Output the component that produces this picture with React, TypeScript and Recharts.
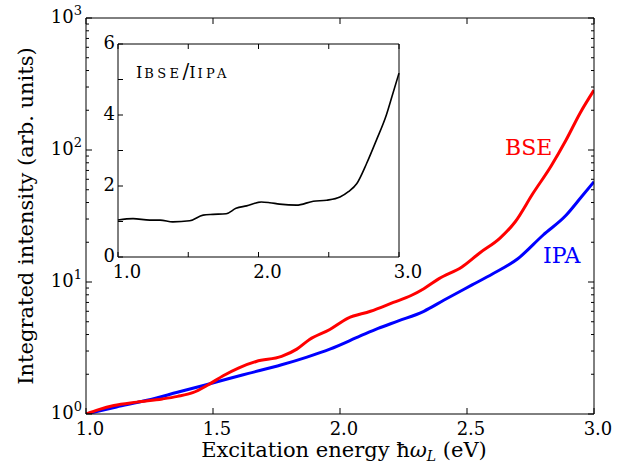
import { LineChart, Line, XAxis, YAxis } from 'recharts';

// BSE intensity (main panel, log scale)
const bseEnergy = [1.0, 1.05, 1.11, 1.2, 1.3, 1.36, 1.42, 1.48, 1.54, 1.6, 1.67, 1.77, 1.83, 1.88, 1.96, 2.03, 2.12, 2.21, 2.28, 2.33, 2.39, 2.48, 2.55, 2.63, 2.69, 2.76, 2.83, 2.89, 2.945, 3.0];
const bseValues = [1.0, 1.08, 1.16, 1.23, 1.3, 1.36, 1.45, 1.66, 1.95, 2.23, 2.5, 2.73, 3.1, 3.67, 4.37, 5.3, 6.0, 7.0, 7.9, 8.9, 10.6, 13.0, 16.6, 21.5, 28.6, 47, 75, 119, 190, 284];

// IPA intensity
const ipaEnergy = [1.0, 1.12, 1.24, 1.36, 1.47, 1.56, 1.64, 1.77, 1.87, 1.96, 2.08, 2.15, 2.23, 2.33, 2.41, 2.52, 2.6, 2.7, 2.8, 2.89, 2.95, 3.0];
const ipaValues = [1.0, 1.13, 1.27, 1.46, 1.66, 1.85, 2.03, 2.36, 2.7, 3.1, 3.9, 4.45, 5.07, 6.0, 7.3, 9.5, 11.5, 15, 22.7, 32, 44, 57.5];

// ratio shown in the inset
const ratioEnergy = [1.0, 1.107, 1.226, 1.3, 1.39, 1.51, 1.606, 1.677, 1.77, 1.84, 1.915, 2.02, 2.08, 2.15, 2.27, 2.39, 2.485, 2.58, 2.64, 2.7, 2.77, 2.84, 2.91, 2.95, 3.0];
const ratioValues = [1.04, 1.08, 1.04, 1.04, 0.99, 1.02, 1.18, 1.2, 1.22, 1.37, 1.44, 1.55, 1.53, 1.49, 1.46, 1.57, 1.6, 1.69, 1.84, 2.07, 2.64, 3.3, 4.0, 4.52, 5.18];

const xTicks = [1.0, 1.5, 2.0, 2.5, 3.0];
const yMajor = [1, 10, 100, 1000];
const yTicks = [1, 2, 3, 4, 5, 6, 7, 8, 9, 10, 20, 30, 40, 50, 60, 70, 80, 90, 100, 200, 300, 400, 500, 600, 700, 800, 900, 1000];
const insetXTicks = [1.0, 1.5, 2.0, 2.5, 3.0];
const insetXLabels = [1.0, 2.0, 3.0];
const insetYTicks = [0, 1, 2, 3, 4, 5, 6];
const insetYLabels = [0, 2, 4, 6];

const bseData = bseEnergy.map((e, i) => ({ e, v: bseValues[i] }));
const ipaData = ipaEnergy.map((e, i) => ({ e, v: ipaValues[i] }));
const ratioData = ratioEnergy.map((e, i) => ({ e, r: ratioValues[i] }));

const FONT = '"DejaVu Serif", "Liberation Serif", serif';

function BottomTick(props: any) {
  const { x, y, payload } = props;
  return (
    <g>
      <line x1={x} x2={x} y1={y} y2={y - 6} stroke="#000" />
      <text x={x + 4} y={y + 21} textAnchor="middle" fontFamily={FONT} fontSize={18} fill="#000">
        {payload.value.toFixed(1)}
      </text>
    </g>
  );
}

function TopTick(props: any) {
  const { x, y } = props;
  return <line x1={x} x2={x} y1={y} y2={y + 6} stroke="#000" />;
}

function LeftTick(props: any) {
  const { x, y, payload } = props;
  const major = yMajor.includes(payload.value);
  const len = major ? 6 : 3;
  return (
    <g>
      <line x1={x} x2={x + len} y1={y} y2={y} stroke="#000" />
      {major && (
        <text x={x - 4} y={y + 5} textAnchor="end" fontFamily={FONT} fontSize={18} fill="#000">
          <tspan>10</tspan>
          <tspan dy={-8} fontSize={13}>{Math.round(Math.log10(payload.value))}</tspan>
        </text>
      )}
    </g>
  );
}

function RightTick(props: any) {
  const { x, y, payload } = props;
  const len = yMajor.includes(payload.value) ? 6 : 3;
  return <line x1={x} x2={x - len} y1={y} y2={y} stroke="#000" />;
}

function InsetBottomTick(props: any) {
  const { x, y, payload } = props;
  return (
    <g>
      <line x1={x} x2={x} y1={y} y2={y - 5} stroke="#000" />
      {insetXLabels.includes(payload.value) && (
        <text x={x + 9} y={y + 21} textAnchor="middle" fontFamily={FONT} fontSize={18} fill="#000">
          {payload.value.toFixed(1)}
        </text>
      )}
    </g>
  );
}

function InsetTopTick(props: any) {
  const { x, y } = props;
  return <line x1={x} x2={x} y1={y} y2={y + 5} stroke="#000" />;
}

function InsetLeftTick(props: any) {
  const { x, y, payload } = props;
  return (
    <g>
      <line x1={x} x2={x + 5} y1={y} y2={y} stroke="#000" />
      {insetYLabels.includes(payload.value) && (
        <text x={x - 3} y={y + 5} textAnchor="end" fontFamily={FONT} fontSize={18} fill="#000">
          {payload.value}
        </text>
      )}
    </g>
  );
}

function InsetRightTick(props: any) {
  const { x, y } = props;
  return <line x1={x} x2={x - 5} y1={y} y2={y} stroke="#000" />;
}

const axisLine = { stroke: '#000', strokeWidth: 1 };
const sc = { fontSize: 13, letterSpacing: '3.4px', marginLeft: 2 };

export default function App() {
  return (
    <div style={{ position: 'absolute', left: 0, top: 0, width: 618, height: 472, background: '#fff', fontFamily: FONT }}>
      <LineChart width={618} height={472} margin={{ top: 17, right: 23, bottom: 57, left: 85 }}>
        <XAxis
          xAxisId="b"
          type="number"
          dataKey="e"
          domain={[1, 3]}
          ticks={xTicks}
          interval={0}
          height={1}
          tickSize={0}
          tickMargin={0}
          axisLine={axisLine}
          tickLine={false}
          tick={<BottomTick />}
          allowDataOverflow
        />
        <XAxis
          xAxisId="t"
          orientation="top"
          type="number"
          dataKey="e"
          domain={[1, 3]}
          ticks={xTicks}
          interval={0}
          height={1}
          tickSize={0}
          tickMargin={0}
          axisLine={axisLine}
          tickLine={false}
          tick={<TopTick />}
          allowDataOverflow
        />
        <YAxis
          yAxisId="l"
          type="number"
          scale="log"
          domain={[1, 1000]}
          ticks={yTicks}
          interval={0}
          width={1}
          tickSize={0}
          tickMargin={0}
          axisLine={axisLine}
          tickLine={false}
          tick={<LeftTick />}
          allowDataOverflow
        />
        <YAxis
          yAxisId="r"
          orientation="right"
          type="number"
          scale="log"
          domain={[1, 1000]}
          ticks={yTicks}
          interval={0}
          width={1}
          tickSize={0}
          tickMargin={0}
          axisLine={axisLine}
          tickLine={false}
          tick={<RightTick />}
          allowDataOverflow
        />
        <Line xAxisId="b" yAxisId="l" data={ipaData} dataKey="v" type="monotone" stroke="#0000ff" strokeWidth={3} dot={false} isAnimationActive={false} />
        <Line xAxisId="b" yAxisId="l" data={bseData} dataKey="v" type="monotone" stroke="#ff0000" strokeWidth={3} dot={false} isAnimationActive={false} />
      </LineChart>

      <div style={{ position: 'absolute', left: 68, top: 24, width: 371, height: 273 }}>
        <div style={{ position: 'absolute', left: 50, top: 20, width: 281, height: 213, background: '#fff' }} />
        <div style={{ position: 'absolute', left: 0, top: 0 }}>
          <LineChart width={371} height={273} data={ratioData} margin={{ top: 19, right: 39, bottom: 39, left: 49 }}>
            <XAxis xAxisId="b" type="number" dataKey="e" domain={[1, 3]} ticks={insetXTicks} interval={0} height={1} tickSize={0} tickMargin={0} axisLine={axisLine} tickLine={false} tick={<InsetBottomTick />} />
            <XAxis xAxisId="t" orientation="top" type="number" dataKey="e" domain={[1, 3]} ticks={insetXTicks} interval={0} height={1} tickSize={0} tickMargin={0} axisLine={axisLine} tickLine={false} tick={<InsetTopTick />} />
            <YAxis yAxisId="l" type="number" domain={[0, 6]} ticks={insetYTicks} interval={0} width={1} tickSize={0} tickMargin={0} axisLine={axisLine} tickLine={false} tick={<InsetLeftTick />} />
            <YAxis yAxisId="r" orientation="right" type="number" domain={[0, 6]} ticks={insetYTicks} interval={0} width={1} tickSize={0} tickMargin={0} axisLine={axisLine} tickLine={false} tick={<InsetRightTick />} />
            <Line xAxisId="b" yAxisId="l" dataKey="r" type="monotone" stroke="#000" strokeWidth={1.6} dot={false} isAnimationActive={false} />
          </LineChart>
        </div>
      </div>

      <div style={{ position: 'absolute', left: 136, top: 60, fontSize: 16, lineHeight: '22px', whiteSpace: 'nowrap', color: '#000' }}>
        I<span style={sc}>BSE</span><span style={{ fontSize: 20 }}>/</span>I<span style={sc}>IPA</span>
      </div>

      <div style={{ position: 'absolute', left: 505, top: 134, fontSize: 22, lineHeight: '28px', color: '#ff0000', whiteSpace: 'nowrap' }}>BSE</div>
      <div style={{ position: 'absolute', left: 543, top: 242, fontSize: 22, lineHeight: '28px', color: '#0000ff', whiteSpace: 'nowrap' }}>IPA</div>

      <div style={{ position: 'absolute', left: 344, top: 440, transform: 'translateX(-50%)', fontSize: 21, lineHeight: '20px', whiteSpace: 'nowrap', color: '#000' }}>
        Excitation energy ħ<i>ω</i><sub style={{ fontSize: 14, fontStyle: 'italic', verticalAlign: '-4px', lineHeight: '10px' }}>L</sub> (eV)
      </div>

      <div style={{ position: 'absolute', left: 26, top: 216, transform: 'translate(-50%, -50%) rotate(-90deg)', fontSize: 21, lineHeight: '22px', whiteSpace: 'nowrap', color: '#000' }}>
        Integrated intensity (arb. units)
      </div>
    </div>
  );
}
